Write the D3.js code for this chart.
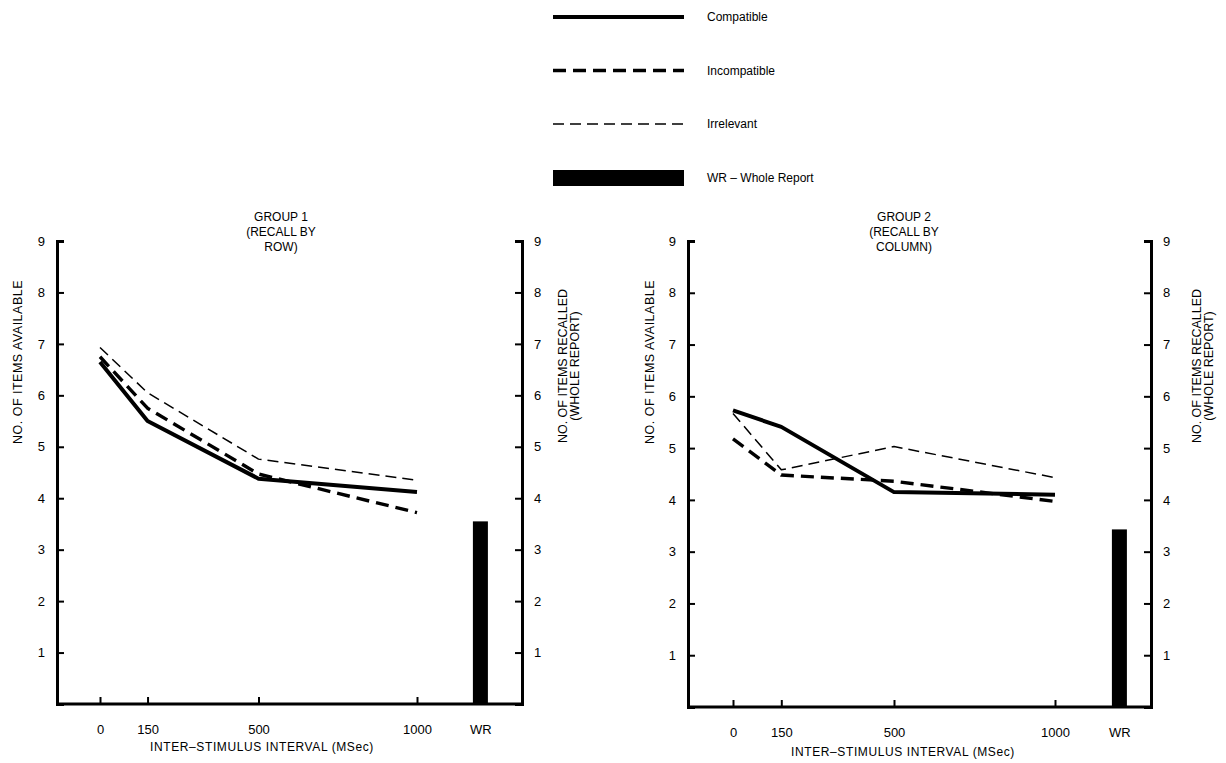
<!DOCTYPE html>
<html>
<head>
<meta charset="utf-8">
<script src="https://cdn.jsdelivr.net/npm/d3@7"></script>
<style>
body { margin: 0; background: #fff; }
text { font-family: "Liberation Sans", Arial, sans-serif; fill: #000; }
</style>
</head>
<body>
<div id="canvas"></div>
<script>
var width = 1226;
var height = 763;

// x values (ms); WR bar sits at 1200 on the same scale
var intervals = [0, 150, 500, 1000];
var tickLabels = ["0", "150", "500", "1000", "WR"];

var g1Compatible = [6.65, 5.5, 4.38, 4.12];
var g1Incompatible = [6.75, 5.75, 4.47, 3.72];
var g1Irrelevant = [6.93, 6.05, 4.76, 4.35];
var g1WR = 3.55;

var g2Compatible = [5.73, 5.41, 4.15, 4.1];
var g2Incompatible = [5.18, 4.48, 4.36, 3.97];
var g2Irrelevant = [5.67, 4.58, 5.03, 4.43];
var g2WR = 3.43;

var series = [
	{name: "Compatible", width: 4, dash: null},
	{name: "Incompatible", width: 3.4, dash: "13,7"},
	{name: "Irrelevant", width: 1.5, dash: "11,6"}
];

var panels = [
	{title: ["GROUP 1", "(RECALL BY", "ROW)"], vals: [g1Compatible, g1Incompatible, g1Irrelevant], wr: g1WR,
		left: 57, right: 522, top: 241, bottom: 704, x0: 100, x1: 417, titleX: 281, xlabX: 262, xlabY: 751, ylabL: 18, ylabR: 563},
	{title: ["GROUP 2", "(RECALL BY", "COLUMN)"], vals: [g2Compatible, g2Incompatible, g2Irrelevant], wr: g2WR,
		left: 688, right: 1151, top: 241, bottom: 707, x0: 733, x1: 1055, titleX: 904, xlabX: 903, xlabY: 756, ylabL: 650, ylabR: 1197}
];

var svg = d3.select("#canvas").append("svg")
	.attr("width", width)
	.attr("height", height);

// legend
var legendY = [17, 70.5, 124];
series.forEach(function(s, i){
	svg.append("line")
		.attr("x1", 553).attr("x2", 684)
		.attr("y1", legendY[i]).attr("y2", legendY[i])
		.attr("stroke", "#000")
		.attr("stroke-width", s.width)
		.attr("stroke-dasharray", s.dash);
	svg.append("text")
		.attr("x", 707).attr("y", legendY[i] + 4)
		.style("font-size", "12px")
		.text(s.name);
});
svg.append("rect")
	.attr("x", 553).attr("y", 170)
	.attr("width", 131).attr("height", 16)
	.attr("fill", "#000");
svg.append("text")
	.attr("x", 707).attr("y", 182)
	.style("font-size", "12px")
	.text("WR  \u2013  Whole Report");

panels.forEach(function(p){
	var g = svg.append("g");
	var x = d3.scaleLinear().domain([0, 1000]).range([p.x0, p.x1]);
	var y = d3.scaleLinear().domain([0, 9]).range([p.bottom, p.top]);

	// title
	p.title.forEach(function(t, i){
		g.append("text")
			.attr("x", p.titleX).attr("y", 221 + i * 15)
			.attr("text-anchor", "middle")
			.style("font-size", "12px")
			.text(t);
	});

	// WR bar
	g.append("rect")
		.attr("x", x(1200) - 7.5)
		.attr("y", y(p.wr))
		.attr("width", 15)
		.attr("height", y(0) - y(p.wr))
		.attr("fill", "#000");

	// y axes
	var axL = g.append("g")
		.attr("transform", "translate(" + p.left + ",0)")
		.call(d3.axisLeft(y).tickValues([1,2,3,4,5,6,7,8,9]).tickSize(-7).tickSizeOuter(-7).tickPadding(12));
	var axR = g.append("g")
		.attr("transform", "translate(" + p.right + ",0)")
		.call(d3.axisRight(y).tickValues([1,2,3,4,5,6,7,8,9]).tickSize(-7).tickSizeOuter(-7).tickPadding(12));
	[axL, axR].forEach(function(ax){
		ax.select(".domain").attr("stroke-width", 3);
		ax.selectAll(".tick line").attr("stroke-width", 2);
		ax.selectAll("text").style("font-size", "13px").attr("font-family", null);
	});

	// x axis
	var axB = g.append("g")
		.attr("transform", "translate(0," + p.bottom + ")")
		.call(d3.axisBottom(x).tickValues(intervals.concat([1200]))
			.tickFormat(function(d, i){ return tickLabels[i]; })
			.tickSize(-7).tickPadding(21));
	axB.select(".domain").remove();
	axB.selectAll(".tick line").attr("stroke-width", 2);
	axB.selectAll("text").style("font-size", "13px").attr("font-family", null);
	g.append("line")
		.attr("x1", p.left).attr("x2", p.right)
		.attr("y1", p.bottom).attr("y2", p.bottom)
		.attr("stroke", "#000").attr("stroke-width", 3);

	// series lines
	var line = d3.line()
		.x(function(d, i){ return x(intervals[i]); })
		.y(function(d){ return y(d); });
	series.forEach(function(s, i){
		g.append("path")
			.datum(p.vals[i])
			.attr("d", line)
			.attr("fill", "none")
			.attr("stroke", "#000")
			.attr("stroke-width", s.width)
			.attr("stroke-linejoin", "round")
			.attr("stroke-dasharray", s.dash);
	});

	// axis titles
	g.append("text")
		.attr("x", p.xlabX).attr("y", p.xlabY)
		.attr("text-anchor", "middle")
		.style("font-size", "12px")
		.style("letter-spacing", "0.6px")
		.text("INTER\u2013STIMULUS INTERVAL (MSec)");
	g.append("text")
		.attr("transform", "translate(" + (p.ylabL + 4) + ",362) rotate(-90)")
		.attr("text-anchor", "middle")
		.style("font-size", "12.5px")
		.style("letter-spacing", "0.5px")
		.text("NO. OF ITEMS AVAILABLE");
	g.append("text")
		.attr("transform", "translate(" + (p.ylabR + 4) + ",366) rotate(-90)")
		.attr("text-anchor", "middle")
		.style("font-size", "12.5px")
		.text("NO. OF ITEMS RECALLED");
	g.append("text")
		.attr("transform", "translate(" + (p.ylabR + 16) + ",366) rotate(-90)")
		.attr("text-anchor", "middle")
		.style("font-size", "12.5px")
		.text("(WHOLE REPORT)");
});
</script>
</body>
</html>
